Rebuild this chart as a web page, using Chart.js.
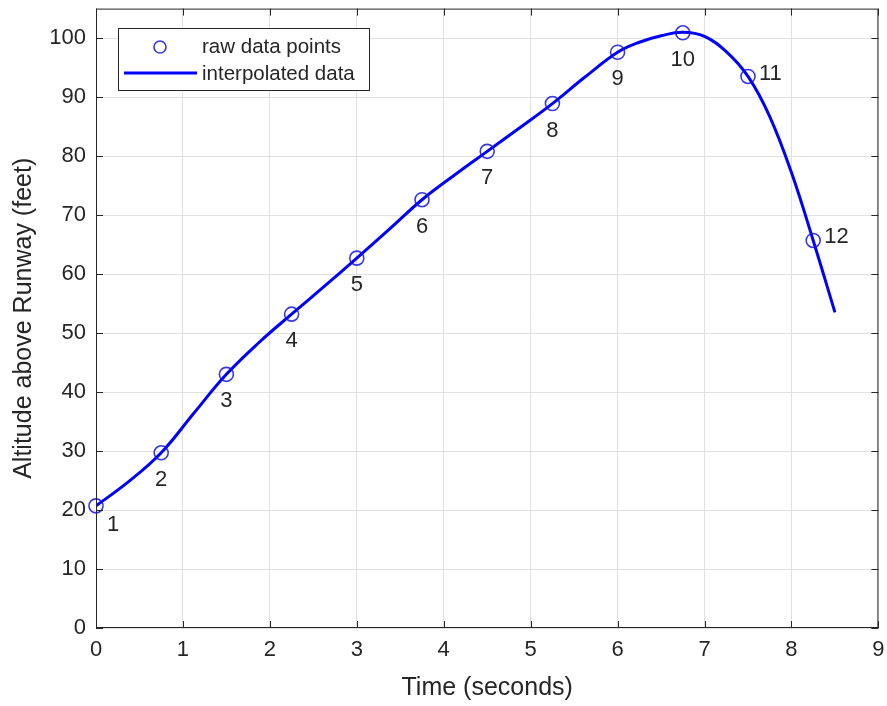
<!DOCTYPE html>
<html>
<head>
<meta charset="utf-8">
<script src="https://cdn.jsdelivr.net/npm/chart.js@4.4.1/dist/chart.umd.min.js"></script>
<style>
  html, body { margin: 0; padding: 0; background: #fff; }
  #wrap { width: 887px; height: 706px; }
</style>
</head>
<body>
<div id="wrap"><canvas id="altChart"></canvas></div>
<script>
// raw measurements (time in s, altitude in ft)
const rawTime = [0, 0.75, 1.5, 2.25, 3, 3.75, 4.5, 5.25, 6, 6.75, 7.5, 8.25];
const rawAltitude = [20.7, 29.7, 43.0, 53.2, 62.7, 72.6, 80.8, 88.9, 97.6, 100.9, 93.5, 65.7];
const pointNames = ["1", "2", "3", "4", "5", "6", "7", "8", "9", "10", "11", "12"];

// interpolated curve
const curveTime = [0, 0.375, 0.75, 1.125, 1.5, 1.875, 2.25, 2.625, 3, 3.375, 3.75, 4.125, 4.5, 4.875,
                   5.25, 5.625, 6, 6.25, 6.5, 6.75, 7.0, 7.25, 7.5, 7.75, 8.0, 8.25, 8.5];
const curveAltitude = [20.7, 24.8, 29.7, 36.4, 43.0, 48.4, 53.2, 57.9, 62.7, 67.6, 72.6, 76.8, 80.8, 84.8,
                       88.9, 93.4, 97.6, 99.3, 100.4, 101.0, 100.3, 97.7, 93.5, 86.7, 77.2, 65.7, 53.5];

const xTicks = [0, 1, 2, 3, 4, 5, 6, 7, 8, 9];
const yTicks = [0, 10, 20, 30, 40, 50, 60, 70, 80, 90, 100];
const seriesNames = ["raw data points", "interpolated data"];

const textCol = "#262626";
const blue = "#0000ff";
const fontFam = "'Liberation Sans', Arial, sans-serif";

const ctx = document.getElementById("altChart");

// MATLAB-like box, inner ticks, point numbers and legend
const decorPlugin = {
    id: "decor",
    afterDatasetsDraw(chart) {
        const c = chart.ctx;
        const a = chart.chartArea;
        const xs = chart.scales.x, ys = chart.scales.y;

        // frame
        c.save();
        c.strokeStyle = textCol;
        c.lineWidth = 1;
        c.strokeRect(a.left + 0.5, a.top + 0.5, a.right - a.left - 1, a.bottom - a.top - 1);
        // inner ticks
        c.beginPath();
        xTicks.forEach(function (t) {
            var px = Math.round(xs.getPixelForValue(t)) + 0.5;
            c.moveTo(px, a.bottom); c.lineTo(px, a.bottom - 7);
            c.moveTo(px, a.top); c.lineTo(px, a.top + 7);
        });
        yTicks.forEach(function (t) {
            var py = Math.round(ys.getPixelForValue(t)) + 0.5;
            c.moveTo(a.left, py); c.lineTo(a.left + 7, py);
            c.moveTo(a.right, py); c.lineTo(a.right - 7, py);
        });
        c.stroke();

        // point numbers
        c.fillStyle = textCol;
        c.font = "22px " + fontFam;
        c.textBaseline = "middle";
        for (var i = 0; i < rawTime.length; i++) {
            var px = xs.getPixelForValue(rawTime[i]);
            var py = ys.getPixelForValue(rawAltitude[i]);
            if (i === 0) {
                c.textAlign = "center";
                c.fillText(pointNames[i], px + 17, py + 19);
            } else if (i >= 10) {
                c.textAlign = "left";
                c.fillText(pointNames[i], px + 11, py - 3);
            } else {
                c.textAlign = "center";
                c.fillText(pointNames[i], px, py + 27);
            }
        }

        // legend
        var bx = 118, by = 28, bw = 251, bh = 62;
        c.fillStyle = "#fff";
        c.fillRect(bx, by, bw, bh);
        c.strokeStyle = textCol;
        c.strokeRect(bx + 0.5, by + 0.5, bw, bh);
        c.strokeStyle = "rgba(20,20,230,0.85)";
        c.lineWidth = 1.6;
        c.beginPath();
        c.arc(bx + 42, by + 19, 6, 0, Math.PI * 2);
        c.stroke();
        c.strokeStyle = blue;
        c.lineWidth = 3;
        c.beginPath();
        c.moveTo(bx + 6, by + 45); c.lineTo(bx + 79, by + 45);
        c.stroke();
        c.fillStyle = textCol;
        c.font = "20.5px " + fontFam;
        c.textAlign = "left";
        c.fillText(seriesNames[0], bx + 84, by + 19);
        c.fillText(seriesNames[1], bx + 84, by + 46);
        c.restore();
    }
};

var altChart = new Chart(ctx, {
    type: "line",
    data: {
        datasets: [
            {
                label: seriesNames[0],
                data: rawTime.map(function (t, i) { return { x: t, y: rawAltitude[i] }; }),
                showLine: false,
                clip: false,
                pointStyle: "circle",
                pointRadius: 7,
                pointBorderWidth: 1.6,
                pointBorderColor: "rgba(20,20,230,0.85)",
                pointBackgroundColor: "rgba(0,0,0,0)",
                order: 0
            },
            {
                label: seriesNames[1],
                data: curveTime.map(function (t, i) { return { x: t, y: curveAltitude[i] }; }),
                borderColor: blue,
                borderWidth: 3,
                pointRadius: 0,
                tension: 0.4,
                fill: false,
                order: 1
            }
        ]
    },
    options: {
        responsive: true,
        maintainAspectRatio: false,
        animation: false,
        layout: { padding: { top: 8, right: 8, left: 0, bottom: 0 } },
        plugins: {
            legend: { display: false },
            tooltip: { enabled: false }
        },
        scales: {
            x: {
                type: "linear",
                min: 0,
                max: 9,
                afterBuildTicks: function (s) { s.ticks = xTicks.map(function (v) { return { value: v }; }); },
                afterFit: function (s) { s.height = 78; s.paddingLeft = 0; s.paddingRight = 0; },
                grid: { color: "#e0e0e0", lineWidth: 1, drawTicks: false },
                border: { display: false },
                ticks: { color: textCol, font: { family: fontFam, size: 22 }, padding: 9, maxRotation: 0 },
                title: {
                    display: true,
                    text: "Time (seconds)",
                    color: textCol,
                    font: { family: fontFam, size: 25 },
                    padding: { top: 0, bottom: 3 }
                }
            },
            y: {
                type: "linear",
                min: 0,
                max: 105,
                afterBuildTicks: function (s) { s.ticks = yTicks.map(function (v) { return { value: v }; }); },
                afterFit: function (s) { s.width = 96; s.paddingTop = 0; s.paddingBottom = 0; },
                grid: { color: "#e0e0e0", lineWidth: 1, drawTicks: false },
                border: { display: false },
                ticks: { color: textCol, font: { family: fontFam, size: 22 }, padding: 10 },
                title: {
                    display: true,
                    text: "Altitude above Runway (feet)",
                    color: textCol,
                    font: { family: fontFam, size: 25 },
                    padding: { top: 9, bottom: 0 }
                }
            }
        }
    },
    plugins: [decorPlugin]
});
</script>
</body>
</html>
